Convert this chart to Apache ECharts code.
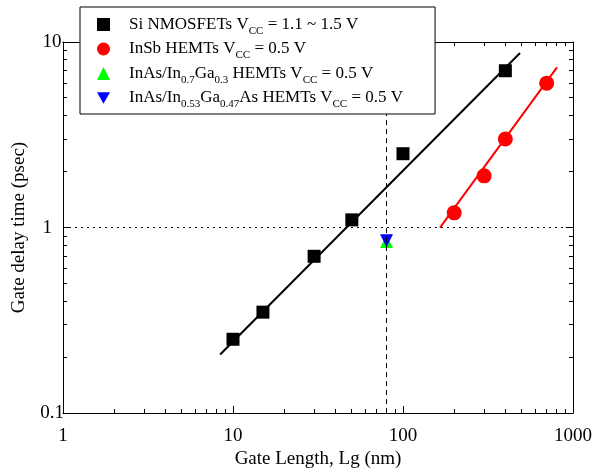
<!DOCTYPE html>
<html>
<head>
<meta charset="utf-8">
<script src="https://cdn.jsdelivr.net/npm/echarts@6/dist/echarts.min.js"></script>
<style>
  html, body { margin: 0; padding: 0; background: #fff; }
  #chart { width: 601px; height: 474px; }
</style>
</head>
<body>
<div id="chart"></div>
<script>
// measured points
const siX = [10, 15, 30, 50, 100, 400]
const siY = [0.25, 0.35, 0.7, 1.1, 2.5, 7]
const insbX = [200, 300, 400, 700]
const insbY = [1.2, 1.9, 3, 6]
const inasX = [80]
const inas07Y = [0.84]
const inas053Y = [0.85]

// fit lines (end points)
const siFitX = [8.4, 488]
const siFitY = [0.207, 8.73]
const insbFitX = [165, 805]
const insbFitY = [1.0, 7.3]

// reference lines
const refX = 80
const refY = 1

// tick values
const xMajor = [1, 10, 100, 1000]
const yMajor = [0.1, 1, 10]
const xMinor = [2, 3, 4, 5, 6, 7, 8, 9, 20, 30, 40, 50, 60, 70, 80, 90, 200, 300, 400, 500, 600, 700, 800, 900]
const yMinor = [0.2, 0.3, 0.4, 0.5, 0.6, 0.7, 0.8, 0.9, 2, 3, 4, 5, 6, 7, 8, 9]

const FONT = 'Liberation Serif'
const zip = (xs, ys) => xs.map((x, i) => [x, ys[i]])

const legendText = {
  'Si': '{n|Si NMOSFETs V}{s|CC}{n| = 1.1 ~ 1.5 V}',
  'InSb': '{n|InSb HEMTs V}{s|CC}{n| = 0.5 V}',
  'InAs07': '{n|InAs/In}{s|0.7}{n|Ga}{s|0.3}{n| HEMTs V}{s|CC}{n| = 0.5 V}',
  'InAs053': '{n|InAs/In}{s|0.53}{n|Ga}{s|0.47}{n|As HEMTs V}{s|CC}{n| = 0.5 V}'
}
const downTri = 'path://M0,0 L10,0 L5,9 Z'

const chart = echarts.init(document.getElementById('chart'))

// small filled bars as tick marks (crisp 1px)
const tickRect = (x, y, w, h) => ({
  type: 'rect',
  shape: { x: Math.round(x), y: Math.round(y), width: w, height: h },
  style: { fill: '#000' }
})

// ticks drawn on all four sides through the axes' own coords
const xTickSeries = (values, len) => ({
  type: 'custom',
  clip: false,
  z: 5,
  data: values.map(v => [v, 0.1]),
  renderItem: (params, api) => {
    const v = api.value(0)
    const b = api.coord([v, 0.1])
    const t = api.coord([v, 10])
    return {
      type: 'group',
      children: [tickRect(b[0] - 0.5, b[1] - len, 1, len), tickRect(t[0] - 0.5, t[1], 1, len)]
    }
  }
})
const yTickSeries = (values, len) => ({
  type: 'custom',
  clip: false,
  z: 5,
  data: values.map(v => [1, v]),
  renderItem: (params, api) => {
    const v = api.value(1)
    const l = api.coord([1, v])
    const r = api.coord([1000, v])
    return {
      type: 'group',
      children: [tickRect(l[0], l[1] - 0.5, len, 1), tickRect(r[0] - len, r[1] - 0.5, len, 1)]
    }
  }
})

const labelStyle = () => ({ fontFamily: FONT, fontSize: 19, color: '#000' })

const mkAxis = (min, max, position, extra) => Object.assign({
  type: 'log',
  min, max, position,
  axisLine: { show: true, lineStyle: { color: '#000', width: 1 } },
  axisTick: { show: true, inside: true, length: 7, lineStyle: { color: '#000', width: 1 } },
  splitLine: { show: false },
  axisLabel: { show: false }
}, extra)

const option = {
  animation: false,
  grid: { left: 63, right: 28, top: 42, bottom: 58 },
  xAxis: [
    mkAxis(1, 1000, 'bottom', {
      name: 'Gate Length, Lg (nm)',
      nameLocation: 'middle',
      nameGap: 36,
      nameTextStyle: labelStyle(),
      axisLabel: Object.assign(labelStyle(), {
        margin: 13, alignMinLabel: 'center', alignMaxLabel: 'center', formatter: v => String(v)
      })
    }),
    mkAxis(1, 1000, 'top', {})
  ],
  yAxis: [
    mkAxis(0.1, 10, 'left', {
      name: 'Gate delay time (psec)',
      nameLocation: 'middle',
      nameGap: 34,
      nameTextStyle: labelStyle(),
      axisLabel: Object.assign(labelStyle(), {
        margin: 11, alignMinLabel: 'center', alignMaxLabel: 'center', formatter: v => String(v)
      })
    }),
    mkAxis(0.1, 10, 'right', {})
  ],
  legend: {
    orient: 'vertical',
    left: 80,
    top: 7,
    z: 20,
    padding: [9, 32, 4, 17],
    itemGap: 4,
    itemWidth: 13,
    itemHeight: 13,
    backgroundColor: '#fff',
    borderColor: '#000',
    borderWidth: 1,
    data: [
      { name: 'Si', icon: 'rect' },
      { name: 'InSb', icon: 'circle' },
      { name: 'InAs07', icon: 'triangle' },
      { name: 'InAs053', icon: downTri }
    ],
    formatter: name => legendText[name],
    textStyle: {
      padding: [0, 0, 0, 14],
      rich: {
        n: { fontFamily: FONT, fontSize: 17, color: '#000', height: 20 },
        s: { fontFamily: FONT, fontSize: 11, color: '#000', padding: [13, 0, 0, 0] }
      }
    }
  },
  series: [
    {
      type: 'line',
      data: zip(siFitX, siFitY),
      showSymbol: false,
      silent: true,
      lineStyle: { color: '#000', width: 2 },
      markLine: {
        silent: true,
        symbol: 'none',
        label: { show: false },
        lineStyle: { color: '#000', width: 1 },
        data: [
          { xAxis: refX, lineStyle: { type: [5, 4] } },
          { yAxis: refY, lineStyle: { type: [2, 4] } }
        ]
      }
    },
    {
      type: 'line',
      data: zip(insbFitX, insbFitY),
      showSymbol: false,
      silent: true,
      lineStyle: { color: '#ff0000', width: 2 }
    },
    {
      name: 'Si',
      type: 'scatter',
      symbol: 'rect',
      symbolSize: 13,
      itemStyle: { color: '#000', opacity: 1 },
      data: zip(siX, siY)
    },
    {
      name: 'InSb',
      type: 'scatter',
      symbol: 'circle',
      symbolSize: 15,
      itemStyle: { color: '#ff0000', opacity: 1 },
      data: zip(insbX, insbY)
    },
    {
      name: 'InAs07',
      type: 'scatter',
      symbol: 'triangle',
      symbolSize: 13,
      itemStyle: { color: '#00ff00', opacity: 1 },
      data: zip(inasX, inas07Y)
    },
    {
      name: 'InAs053',
      type: 'scatter',
      symbol: downTri,
      symbolSize: 13,
      itemStyle: { color: '#0000ff', opacity: 1 },
      data: zip(inasX, inas053Y)
    },
    xTickSeries(xMajor, 7),
    xTickSeries(xMinor, 4),
    yTickSeries(yMajor, 7),
    yTickSeries(yMinor, 4)
  ]
}

chart.setOption(option)

window.addEventListener('resize', () => {
  chart.resize()
})
</script>
</body>
</html>
